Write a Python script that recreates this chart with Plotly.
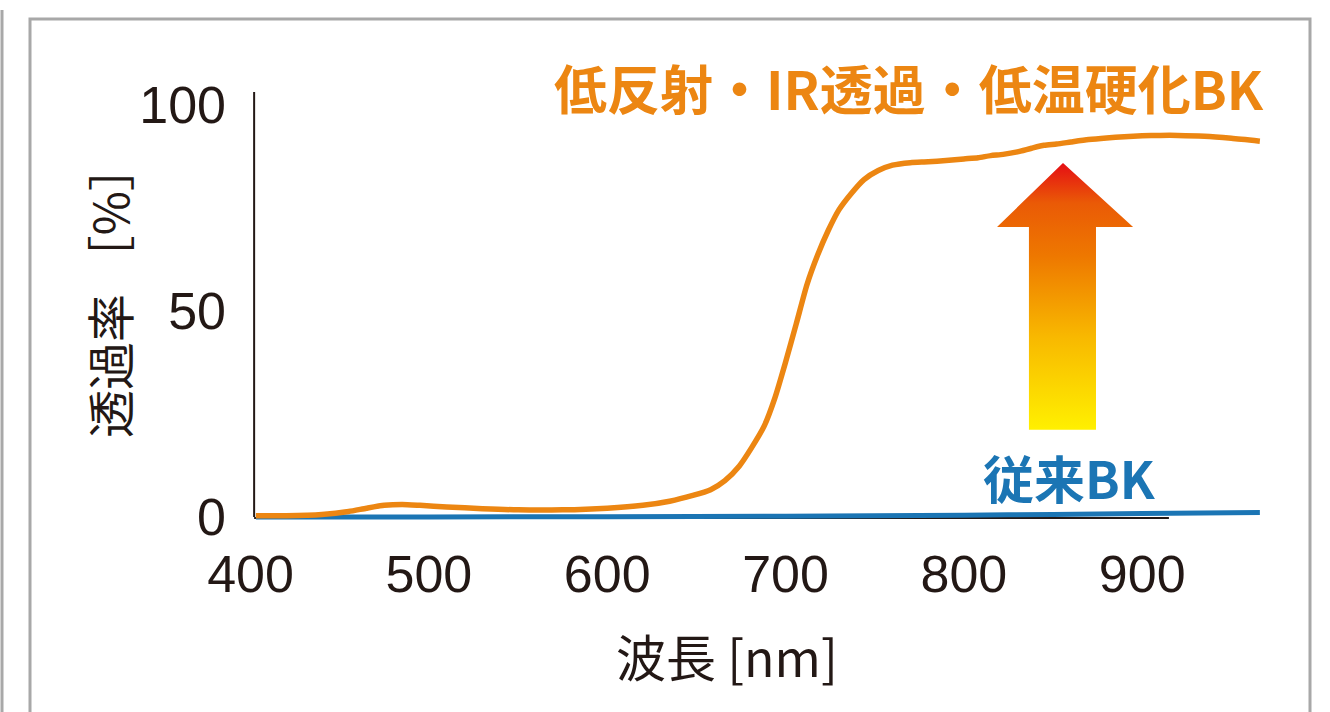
import plotly.graph_objects as go

# ---------------- data ----------------
wavelength_new = [403, 420, 440, 455, 465, 475, 485, 495, 510, 530, 550, 575, 600, 620, 635,
                  648, 658, 666, 674, 681, 688, 694, 700, 706, 712, 718, 724, 730, 737, 744,
                  752, 760, 770, 780, 790, 800, 808, 815, 822, 830, 838, 845, 852, 860, 870,
                  880, 890, 900, 910, 920, 935, 950, 966]
transmit_new = [0.3, 0.3, 0.6, 1.3, 2.1, 2.8, 3.0, 2.8, 2.4, 2.0, 1.7, 1.7, 2.1, 2.8, 3.8,
                5.2, 6.6, 8.8, 12.3, 16.8, 22.0, 28.8, 37.5, 46.8, 56.3, 63.5, 69.5, 74.5, 78.5, 81.8,
                84.0, 85.3, 85.9, 86.1, 86.4, 86.8, 87.1, 87.6, 87.9, 88.5, 89.4, 90.1, 90.4, 90.9, 91.5,
                91.9, 92.2, 92.4, 92.5, 92.5, 92.3, 91.8, 91.1]

wavelength_old = [403, 500, 600, 700, 750, 800, 850, 900, 966]
transmit_old = [0.0, 0.0, 0.05, 0.15, 0.25, 0.4, 0.6, 0.8, 1.05]

x_ticks = [400, 500, 600, 700, 800, 900]
y_ticks = [0, 50, 100]

label_new = "低反射・IR透過・低温硬化BK"
label_old = "従来BK"
x_title = "波長 [nm]"
y_title = "透過率 ［%］"

# arrow (decoration) in data units
arrow_tip = (855.6, 85.8)
arrow_head_y = 70.3
arrow_head_x = (818.6, 894.9)
arrow_shaft_x = (836.5, 874.1)
arrow_bottom_y = 21.1

# ---------------- style ----------------
ORANGE = "#EC8612"
BLUE = "#1B75B4"
DARK = "#231815"
GRAY = "#A8A8A8"

W, H = 1330, 712
ML, MR, MT, MB = 247, 63, 88, 191
PW, PH = W - ML - MR, H - MT - MB


def px(xp):
    return (xp - ML) / PW


def py(yp):
    return (H - MB - yp) / PH


fig = go.Figure()

# gradient arrow
ax = [arrow_shaft_x[0], arrow_shaft_x[0], arrow_head_x[0], arrow_tip[0], arrow_head_x[1],
      arrow_shaft_x[1], arrow_shaft_x[1], arrow_shaft_x[0]]
ay = [arrow_bottom_y, arrow_head_y, arrow_head_y, arrow_tip[1], arrow_head_y,
      arrow_head_y, arrow_bottom_y, arrow_bottom_y]
fig.add_trace(go.Scatter(
    x=ax, y=ay, mode="lines", line=dict(width=0, color="rgba(0,0,0,0)"),
    fill="toself",
    fillgradient=dict(type="vertical",
                      colorscale=[[0, "#FFF000"], [0.35, "#F8B800"], [0.65, "#EE7800"],
                                  [0.85, "#EA5A06"], [1, "#E50E14"]]),
    hoverinfo="skip", showlegend=False))

fig.add_trace(go.Scatter(
    x=wavelength_old, y=transmit_old, mode="lines",
    line=dict(color=BLUE, width=5, shape="spline", smoothing=0.6),
    showlegend=False))
fig.add_trace(go.Scatter(
    x=wavelength_new, y=transmit_new, mode="lines",
    line=dict(color=ORANGE, width=5.5, shape="spline", smoothing=0.6),
    showlegend=False))

shapes = [
    # axis lines
    dict(type="line", xref="x", yref="y", x0=402, x1=402, y0=0, y1=103,
         line=dict(color=DARK, width=2), layer="below"),
    dict(type="line", xref="x", yref="y", x0=402, x1=915, y0=-0.3, y1=-0.3,
         line=dict(color=DARK, width=2), layer="below"),
    # panel frames
    dict(type="rect", xref="paper", yref="paper", x0=px(30), x1=px(1310), y0=py(740), y1=py(19),
         line=dict(color=GRAY, width=3), layer="below"),
    dict(type="line", xref="paper", yref="paper", x0=px(2), x1=px(2), y0=py(740), y1=py(10),
         line=dict(color=GRAY, width=3), layer="below"),
]

annotations = [
    dict(text=label_new, x=px(1266), xref="paper", xanchor="right", y=py(87), yref="paper", yanchor="middle",
         showarrow=False, font=dict(family="Noto Sans CJK JP", size=53, color=ORANGE, weight="bold")),
    dict(text=label_old, x=859.5, xref="x", xanchor="center", y=py(477), yref="paper", yanchor="middle",
         showarrow=False, font=dict(family="Noto Sans CJK JP", size=51, color=BLUE, weight="bold")),
    dict(text=x_title, x=px(727), xref="paper", xanchor="center", y=py(655), yref="paper", yanchor="middle",
         showarrow=False, font=dict(family="Noto Sans CJK JP", size=50, color=DARK)),
    dict(text=y_title, x=px(108), xref="paper", xanchor="center", y=py(291), yref="paper", yanchor="middle",
         textangle=-90, showarrow=False, font=dict(family="Noto Sans CJK JP", size=48, color=DARK)),
]

fig.update_layout(
    width=W, height=H,
    margin=dict(l=ML, r=MR, t=MT, b=MB, pad=0),
    paper_bgcolor="white", plot_bgcolor="white",
    shapes=shapes, annotations=annotations,
    xaxis=dict(range=[398, 970], tickvals=x_ticks, ticktext=[str(v) for v in x_ticks],
               showgrid=False, zeroline=False, showline=False, ticks="",
               ticklabelstandoff=18,
               tickfont=dict(family="Liberation Sans, Arial", size=52, color=DARK)),
    yaxis=dict(range=[-1, 104], tickvals=y_ticks, ticktext=[str(v) for v in y_ticks],
               showgrid=False, zeroline=False, showline=False, ticks="",
               ticklabelstandoff=20,
               tickfont=dict(family="Liberation Sans, Arial", size=52, color=DARK)),
)

fig.write_html("out.html", config={"displayModeBar": False},
               post_script="document.body.style.margin='0';document.body.style.padding='0';")
